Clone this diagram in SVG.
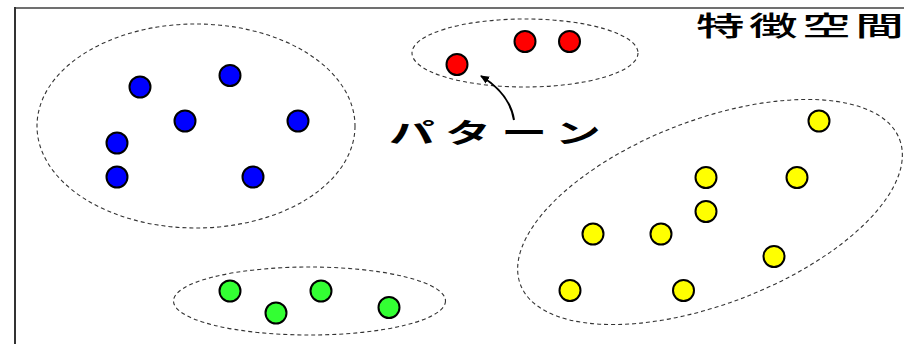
<svg xmlns="http://www.w3.org/2000/svg" width="904" height="344" viewBox="0 0 904 344">
<style>
.cl{fill:none;stroke:#333;stroke-width:1.1;stroke-dasharray:4 3}
.pt{stroke:#000;stroke-width:2}
.b{fill:#0000ff}.r{fill:#ff0000}.g{fill:#33ff33}.y{fill:#ffff00}
.jp{font-family:"Noto Sans CJK JP","Noto Sans CJK SC",sans-serif;fill:#000}
</style>
<defs>
<marker id="ah" markerWidth="10" markerHeight="10" refX="8" refY="5" orient="auto" markerUnits="userSpaceOnUse">
<path d="M0,1 L9,5 L0,9 Z" fill="#000"/>
</marker>
</defs>
<rect width="904" height="344" fill="#fff"/>
<g id="frame">
<line x1="15" y1="8" x2="904" y2="8" stroke="#707070" stroke-width="2"/>
<line x1="15" y1="7" x2="15" y2="344" stroke="#333" stroke-width="2"/>
</g>
<g id="title"><text class="jp" transform="translate(696,35.5) scale(1.8,1)" font-size="27" font-weight="500" letter-spacing="2.5">特徴空間</text></g>
<g id="cluster-blue">
<ellipse class="cl" cx="196" cy="126" rx="159" ry="102"/>
<circle class="pt b" cx="140" cy="87" r="10.5"/>
<circle class="pt b" cx="230" cy="75.5" r="10.5"/>
<circle class="pt b" cx="185" cy="121" r="10.5"/>
<circle class="pt b" cx="298" cy="121" r="10.5"/>
<circle class="pt b" cx="117" cy="143" r="10.5"/>
<circle class="pt b" cx="117" cy="177" r="10.5"/>
<circle class="pt b" cx="253" cy="177" r="10.5"/>
</g>
<g id="cluster-red">
<ellipse class="cl" cx="525" cy="53" rx="113" ry="34"/>
<circle class="pt r" cx="457" cy="64.5" r="10.5"/>
<circle class="pt r" cx="525" cy="41.5" r="10.5"/>
<circle class="pt r" cx="569.5" cy="41.5" r="10.5"/>
</g>
<g id="cluster-green">
<ellipse class="cl" cx="309.5" cy="301" rx="136" ry="34"/>
<circle class="pt g" cx="230" cy="291" r="10.5"/>
<circle class="pt g" cx="276" cy="313" r="10.5"/>
<circle class="pt g" cx="321" cy="291" r="10.5"/>
<circle class="pt g" cx="389" cy="307.5" r="10.5"/>
</g>
<g id="cluster-yellow">
<ellipse class="cl" cx="710" cy="212" rx="203" ry="92" transform="rotate(-21 710 212)"/>
<circle class="pt y" cx="819" cy="121" r="10.5"/>
<circle class="pt y" cx="706" cy="177.5" r="10.5"/>
<circle class="pt y" cx="797" cy="177.5" r="10.5"/>
<circle class="pt y" cx="706" cy="211.5" r="10.5"/>
<circle class="pt y" cx="593" cy="234" r="10.5"/>
<circle class="pt y" cx="661" cy="234" r="10.5"/>
<circle class="pt y" cx="774" cy="256.5" r="10.5"/>
<circle class="pt y" cx="570" cy="290.5" r="10.5"/>
<circle class="pt y" cx="683.5" cy="290.5" r="10.5"/>
</g>
<g id="label-pattern"><text class="jp" transform="translate(389,142.5) scale(1.7,1)" font-size="27" font-weight="700" letter-spacing="6">パターン</text></g>
<g id="connectors">
<path d="M514,120 Q510,94 481,76" fill="none" stroke="#000" stroke-width="2" marker-end="url(#ah)"/>
</g>
</svg>
